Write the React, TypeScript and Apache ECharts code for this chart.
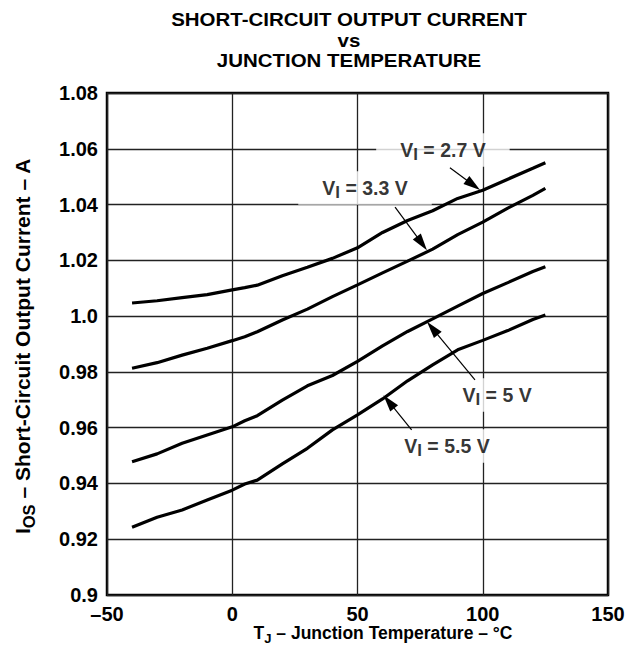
import React, { useEffect, useRef } from 'react';
import * as echarts from 'echarts';

const FONT = '"Liberation Sans", Arial, Helvetica, sans-serif';

// Junction temperature (°C)
const temperatures = [-40, -30, -20, -10, 0, 5, 10, 20, 30, 40, 50, 60, 70, 80, 90, 100, 110, 120, 125];

// Short-circuit output current (A) for each input voltage
const iosVi27 = [1.0047, 1.0055, 1.0066, 1.0077, 1.0094, 1.0102, 1.0111, 1.0145, 1.0175, 1.0207, 1.0245, 1.0300, 1.0343, 1.0378, 1.0422, 1.0451, 1.0491, 1.0530, 1.0550];
const iosVi33 = [0.9813, 0.9833, 0.9860, 0.9885, 0.9912, 0.9926, 0.9944, 0.9986, 1.0025, 1.0070, 1.0112, 1.0155, 1.0197, 1.0240, 1.0292, 1.0337, 1.0387, 1.0433, 1.0458];
const iosVi5 = [0.9478, 0.9506, 0.9544, 0.9574, 0.9603, 0.9625, 0.9643, 0.9699, 0.9750, 0.9787, 0.9838, 0.9893, 0.9945, 0.9990, 1.0036, 1.0081, 1.0120, 1.0160, 1.0177];
const iosVi55 = [0.9243, 0.9279, 0.9305, 0.9341, 0.9376, 0.9398, 0.9412, 0.9470, 0.9526, 0.9592, 0.9646, 0.9703, 0.9768, 0.9825, 0.9879, 0.9913, 0.9948, 0.9988, 1.0004];

// Annotation labels: text, anchor (T, I)
const annotationTexts = ['2.7 V', '3.3 V', '5 V', '5.5 V'];
const annotationAnchors = [[84.1, 1.0596], [53.0, 1.0459], [105.7, 0.9717], [85.7, 0.9534]];
// Arrow from (T, I) to arrowhead centre (T, I)
const arrowStarts = [[86.9, 1.0532], [65.0, 1.0391], [96.9, 0.9771], [71.6, 0.9592]];
const arrowEnds = [[96.2, 1.0470], [75.7, 1.0261], [79.9, 0.9956], [62.5, 0.9693]];

// Axes
const xMin = -50, xMax = 150, xStep = 50;
const yMin = 0.9, yMax = 1.08, yStep = 0.02;

const titleLines = ['SHORT-CIRCUIT OUTPUT CURRENT', 'vs', 'JUNCTION TEMPERATURE'];
const xTitleParts = ['T', 'J', ' \u2013 Junction Temperature \u2013 \u00b0C'];
const yTitleParts = ['I', 'OS', ' \u2013 Short-Circuit Output Current \u2013 A'];

const measureCtx = typeof document !== 'undefined' ? document.createElement('canvas').getContext('2d') : null;
function measure(t: string, size: number) {
  if (!measureCtx) return t.length * size * 0.6;
  measureCtx.font = `bold ${size}px ${FONT}`;
  return measureCtx.measureText(t).width;
}

// Text with a subscript: [main, sub, main]; built as a group centred at (cx, cy)
function subscriptText(parts: string[], main: number, sub: number, drop: number, cx: number, cy: number, rotation: number) {
  const sizes = [main, sub, main];
  const widths = parts.map((p, i) => measure(p, sizes[i]));
  const total = widths.reduce((a, b) => a + b, 0);
  let x = -total / 2;
  const children = parts.map((p, i) => {
    const s = sizes[i];
    const dy = (i === 1 ? drop : 0) + 0.347 * main - 0.347 * s;
    const el = {
      type: 'text', x, y: dy,
      style: { text: p, fill: '#000', fontSize: s, fontWeight: 'bold', fontFamily: FONT, align: 'left', verticalAlign: 'middle' },
    };
    x += widths[i];
    return el;
  });
  return { type: 'group', x: cx, y: cy, rotation, children };
}

export default function App() {
  const ref = useRef<HTMLDivElement>(null);
  useEffect(() => {
    const chart = echarts.init(ref.current!, null, { renderer: 'svg' });
    const pairs = (vals: number[]) => temperatures.map((t, i) => [t, vals[i]]);
    const curves = [iosVi27, iosVi33, iosVi5, iosVi55];

    const labelRich = {
      m: { fontSize: 19.5, fontWeight: 'bold', fontFamily: FONT, color: '#000', verticalAlign: 'top', lineHeight: 19.5 },
      s: { fontSize: 17, fontWeight: 'bold', fontFamily: FONT, color: '#000', verticalAlign: 'top', lineHeight: 19.5, padding: [6, 0, 0, 0] },
    };

    const option: any = {
      animation: false,
      backgroundColor: '#fff',
      grid: { left: 107, right: 34, top: 93, bottom: 64, show: true, borderColor: '#000', borderWidth: 2.5, backgroundColor: 'transparent' },
      xAxis: {
        type: 'value', min: xMin, max: xMax, interval: xStep,
        axisLine: { show: false }, axisTick: { show: false },
        splitLine: { show: true, lineStyle: { color: '#222', width: 1.3 } },
        axisLabel: {
          margin: 9, color: '#000', fontSize: 20, fontWeight: 'bold', fontFamily: FONT,
          formatter: (v: number) => String(v).replace('-', '\u2013'),
        },
      },
      yAxis: {
        type: 'value', min: yMin, max: yMax, interval: yStep,
        axisLine: { show: false }, axisTick: { show: false },
        splitLine: { show: true, lineStyle: { color: '#222', width: 1.3 } },
        axisLabel: {
          margin: 9, color: '#000', fontSize: 20, fontWeight: 'bold', fontFamily: FONT,
          formatter: (v: number) => {
            const r = Math.round(v * 100) / 100;
            return Math.abs(r * 10 - Math.round(r * 10)) < 1e-9 ? r.toFixed(1) : r.toFixed(2);
          },
        },
      },
      graphic: [
        ...titleLines.map((t, i) => ({
          type: 'text', x: 349, y: [19, 39.9, 60.8][i], scaleX: 1.1,
          style: {
            text: t, fill: '#000', fontSize: 18.6, fontWeight: 'bold',
            fontFamily: FONT, align: 'center', verticalAlign: 'middle',
          },
        })),
        subscriptText(xTitleParts, 17.5, 13, 4, 383, 633, 0),
        subscriptText(yTitleParts, 21, 16.5, 5, 22, 346, Math.PI / 2),
      ],
      series: [
        ...curves.map((vals, i) => ({
          type: 'line', name: 'VI = ' + annotationTexts[i], data: pairs(vals), z: 5,
          showSymbol: false, symbol: 'none', smooth: false,
          lineStyle: { color: '#000', width: 3.2 },
        })),
        {
          type: 'scatter', z: 2, symbolSize: 1, itemStyle: { color: 'rgba(0,0,0,0)' },
          data: annotationAnchors.map((a, i) => [a[0], a[1], annotationTexts[i]]),
          label: {
            show: true, position: 'inside', backgroundColor: '#fff', padding: [7, 24, 7, 24],
            formatter: (p: any) => `{m|V}{s|I}{m| = ${p.data[2]}}`,
            rich: labelRich,
          },
          markLine: {
            silent: true, symbol: ['none', 'triangle'], symbolSize: [10, 17],
            lineStyle: { color: '#000', width: 1.2, type: 'solid' },
            label: { show: false },
            data: arrowStarts.map((s, i) => [{ coord: s }, { coord: arrowEnds[i] }]),
          },
        },
      ],
    };
    chart.setOption(option);
    return () => chart.dispose();
  }, []);
  return <div ref={ref} style={{ position: 'fixed', left: 0, top: 0, width: 642, height: 659, background: '#fff' }} />;
}
